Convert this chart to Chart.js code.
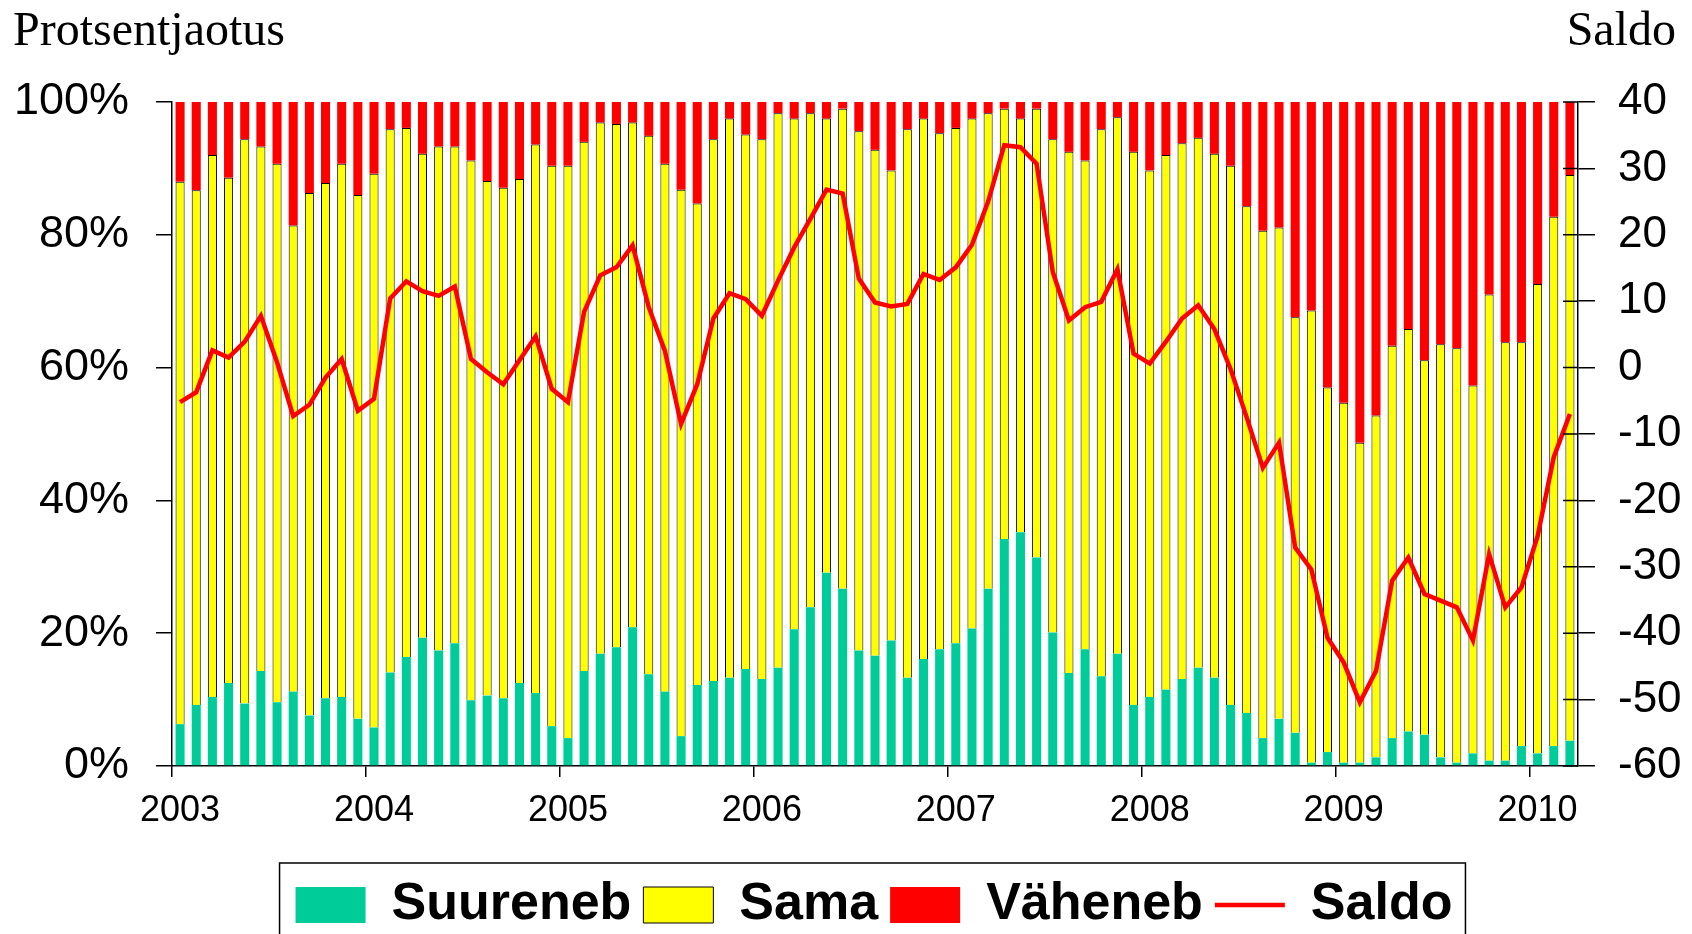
<!DOCTYPE html>
<html>
<head>
<meta charset="utf-8">
<script src="https://cdn.jsdelivr.net/npm/chart.js@4.4.1/dist/chart.umd.min.js"></script>
<style>
  html, body { margin: 0; padding: 0; background: #fff; }
  #wrap { width: 1692px; height: 934px; }
</style>
</head>
<body>
<div id="wrap"><canvas id="plot" width="1692" height="934"></canvas></div>
<script>
// monthly survey, Jan 2003 .. Mar 2010
const firstYear = 2003;
const monthCount = 87;

const suureneb = [
  6.3, 9.2, 10.4, 12.5, 9.4, 14.3, 9.6, 11.2, 7.6, 10.2, 10.4, 7.1,
  5.8, 14.1, 16.4, 19.3, 17.4, 18.5, 9.9, 10.6, 10.2, 12.5, 11.0, 6.0,
  4.2, 14.3, 16.9, 17.9, 20.9, 13.8, 11.2, 4.5, 12.2, 12.8, 13.3, 14.6,
  13.1, 14.8, 20.6, 23.9, 29.1, 26.7, 17.4, 16.6, 18.9, 13.3, 16.1, 17.6,
  18.5, 20.7, 26.7, 34.2, 35.2, 31.4, 20.1, 14.0, 17.6, 13.5, 16.9, 9.2,
  10.4, 11.5, 13.1, 14.8, 13.3, 9.2, 8.0, 4.2, 7.1, 5.0, 0.5, 2.1,
  0.5, 0.5, 1.3, 4.2, 5.2, 4.7, 1.3, 0.5, 1.9, 0.8, 0.8, 3.0,
  1.9, 3.0, 3.8
];
const sama = [
  81.7, 77.5, 81.6, 76.1, 85.0, 79.0, 81.1, 70.2, 78.7, 77.6, 80.3, 78.9,
  83.4, 81.8, 79.7, 72.9, 75.9, 74.8, 81.3, 77.5, 76.9, 75.9, 82.6, 84.4,
  86.2, 79.7, 80.0, 78.8, 76.0, 81.1, 79.5, 82.3, 72.5, 81.6, 84.2, 80.5,
  81.3, 83.5, 76.9, 74.4, 68.4, 72.3, 78.2, 76.2, 70.8, 82.6, 81.4, 77.7,
  77.6, 76.8, 71.6, 64.8, 62.3, 67.6, 74.3, 78.5, 73.6, 82.4, 80.8, 83.3,
  79.3, 80.5, 80.7, 79.8, 78.9, 81.2, 76.3, 76.4, 74.0, 62.6, 68.1, 54.9,
  54.2, 48.2, 51.5, 59.1, 60.6, 56.4, 62.2, 62.4, 55.4, 70.2, 63.0, 60.8,
  70.7, 79.7, 85.2
];
const vaheneb = [
  12.0, 13.3, 8.0, 11.4, 5.6, 6.7, 9.3, 18.6, 13.7, 12.2, 9.3, 14.0,
  10.8, 4.1, 3.9, 7.8, 6.7, 6.7, 8.8, 11.9, 12.9, 11.6, 6.4, 9.6,
  9.6, 6.0, 3.1, 3.3, 3.1, 5.1, 9.3, 13.2, 15.3, 5.6, 2.5, 4.9,
  5.6, 1.7, 2.5, 1.7, 2.5, 1.0, 4.4, 7.2, 10.3, 4.1, 2.5, 4.7,
  3.9, 2.5, 1.7, 1.0, 2.5, 1.0, 5.6, 7.5, 8.8, 4.1, 2.3, 7.5,
  10.3, 8.0, 6.2, 5.4, 7.8, 9.6, 15.7, 19.4, 18.9, 32.4, 31.4, 43.0,
  45.3, 51.3, 47.2, 36.7, 34.2, 38.9, 36.5, 37.1, 42.7, 29.0, 36.2, 36.2,
  27.4, 17.3, 11.0
];
const saldo = [
  -5.2, -3.7, 2.6, 1.5, 3.9, 7.8, 0.8, -7.3, -5.6, -1.5, 1.3, -6.5,
  -4.7, 10.4, 13.0, 11.5, 10.8, 12.2, 1.3, -0.7, -2.5, 1.1, 4.7, -3.2,
  -5.2, 8.4, 13.9, 15.1, 18.4, 9.1, 2.5, -8.5, -2.5, 7.4, 11.2, 10.3,
  7.8, 13.1, 18.1, 22.4, 26.8, 26.2, 13.4, 9.8, 9.2, 9.6, 14.1, 13.2,
  15.1, 18.5, 25.0, 33.5, 33.2, 30.7, 14.4, 7.1, 9.1, 9.9, 14.8, 2.1,
  0.6, 3.9, 7.4, 9.4, 5.8, -0.2, -7.5, -15.1, -11.3, -27.1, -30.4, -40.7,
  -44.4, -50.4, -45.7, -32.1, -28.6, -34.1, -35.1, -36.1, -41.1, -28.1, -36.1, -33.1,
  -25.4, -13.5, -7.0
];

const months = [];
for (let i = 0; i < monthCount; i++) {
  const y = firstYear + Math.floor(i / 12);
  const m = (i % 12) + 1;
  months.push(y + '-' + (m < 10 ? '0' + m : m));
}

Chart.defaults.font.family = '"Liberation Sans", Arial, sans-serif';
Chart.defaults.color = '#000';

// headings above both axes
const titlesPlugin = {
  id: 'titles',
  afterDraw(chart) {
    const c = chart.ctx;
    c.save();
    c.fillStyle = '#000';
    c.font = '48px "Liberation Serif", "Times New Roman", serif';
    c.textBaseline = 'alphabetic';
    c.textAlign = 'left';
    c.fillText('Protsentjaotus', 13, 45);
    c.textAlign = 'right';
    c.fillText('Saldo', 1676, 45);
    c.restore();
  }
};

// legend sits a bit right of the page centre
const legendShift = {
  id: 'legendShift',
  afterLayout(chart) {
    chart.legend.left += 28;
    chart.legend.right += 28;
  }
};

// right axis ticks cross the axis line
const innerTicks = {
  id: 'innerTicks',
  afterDraw(chart) {
    const s = chart.scales.y2;
    const area = chart.chartArea;
    const c = chart.ctx;
    c.save();
    c.strokeStyle = '#000';
    c.lineWidth = 1.5;
    c.beginPath();
    s.ticks.forEach((t, i) => {
      const y = s.getPixelForTick(i);
      c.moveTo(area.right - 15, y);
      c.lineTo(area.right, y);
    });
    c.stroke();
    c.restore();
  }
};

// frame round the legend
const legendFrame = {
  id: 'legendFrame',
  afterDraw(chart) {
    const boxes = chart.legend.legendHitBoxes;
    if (!boxes || !boxes.length) return;
    let left = Infinity, right = -Infinity;
    boxes.forEach(b => {
      left = Math.min(left, b.left);
      right = Math.max(right, b.left + b.width);
    });
    left -= 16;
    right += 13;
    const c = chart.ctx;
    c.save();
    c.strokeStyle = '#000';
    c.lineWidth = 1.5;
    c.strokeRect(left, 863, right - left, 100);
    c.restore();
  }
};

const el = document.getElementById('plot');
const ctx = el.getContext('2d');

const chart = new Chart(ctx, {
  type: 'bar',
  data: {
    labels: months,
    datasets: [
      { label: 'Suureneb', data: suureneb, backgroundColor: '#00cc99', borderWidth: 0,
        yAxisID: 'y', order: 1, pointStyle: 'rect' },
      { label: 'Sama', data: sama, backgroundColor: '#ffff00', borderColor: '#000', borderWidth: 1,
        yAxisID: 'y', order: 1, pointStyle: 'rect' },
      { label: 'Väheneb', data: vaheneb, backgroundColor: '#ff0000', borderWidth: 0,
        yAxisID: 'y', order: 1, pointStyle: 'rect' },
      { label: 'Saldo', type: 'line', data: saldo, borderColor: '#ff0000', backgroundColor: '#ff0000',
        borderWidth: 4.5, pointRadius: 0, tension: 0, yAxisID: 'y2', order: 0, pointStyle: 'line' }
    ]
  },
  options: {
    responsive: false,
    animation: false,
    layout: { padding: { left: 0, right: 0, top: 102, bottom: 0 } },
    datasets: {
      bar: { categoryPercentage: 1, barPercentage: 0.56 }
    },
    scales: {
      x: {
        stacked: true,
        offset: true,
        grid: {
          display: true,
          drawOnChartArea: false,
          drawTicks: true,
          tickLength: 11,
          offset: true,
          lineWidth: 1.5,
          color: (c) => (c.tick && c.index % 12 === 0) ? '#000' : 'rgba(0,0,0,0)'
        },
        border: { display: true, color: '#000', width: 1.5 },
        ticks: {
          autoSkip: false,
          maxRotation: 0,
          minRotation: 0,
          padding: 12,
          font: { size: 36 },
          callback: (v, i) => (i % 12 === 0) ? String(firstYear + i / 12) : ''
        },
        afterFit: (s) => { s.height = 101; }
      },
      y: {
        stacked: true,
        position: 'left',
        min: 0,
        max: 100,
        grid: { drawOnChartArea: false, drawTicks: true, tickLength: 16, color: '#000', lineWidth: 1.5 },
        border: { display: true, color: '#000', width: 1.5 },
        ticks: { stepSize: 20, padding: 27, font: { size: 45 }, callback: (v) => v + '%' },
        afterFit: (s) => { s.width = 172; }
      },
      y2: {
        position: 'right',
        min: -60,
        max: 40,
        grid: { drawOnChartArea: false, drawTicks: true, tickLength: 17, color: '#000', lineWidth: 1.5 },
        border: { display: true, color: '#000', width: 1.5 },
        ticks: { stepSize: 10, padding: 23, font: { size: 44 } },
        afterFit: (s) => { s.width = 114; }
      }
    },
    plugins: {
      tooltip: { enabled: false },
      legend: {
        display: true,
        position: 'bottom',
        maxHeight: 67,
        labels: {
          usePointStyle: true,
          pointStyleWidth: 70,
          boxWidth: 70,
          boxHeight: 36,
          padding: 12,
          color: '#000',
          font: { size: 52, weight: 'bold' },
          sort: (a, b) => a.datasetIndex - b.datasetIndex
        }
      }
    }
  },
  plugins: [titlesPlugin, legendShift, innerTicks, legendFrame]
});
</script>
</body>
</html>
